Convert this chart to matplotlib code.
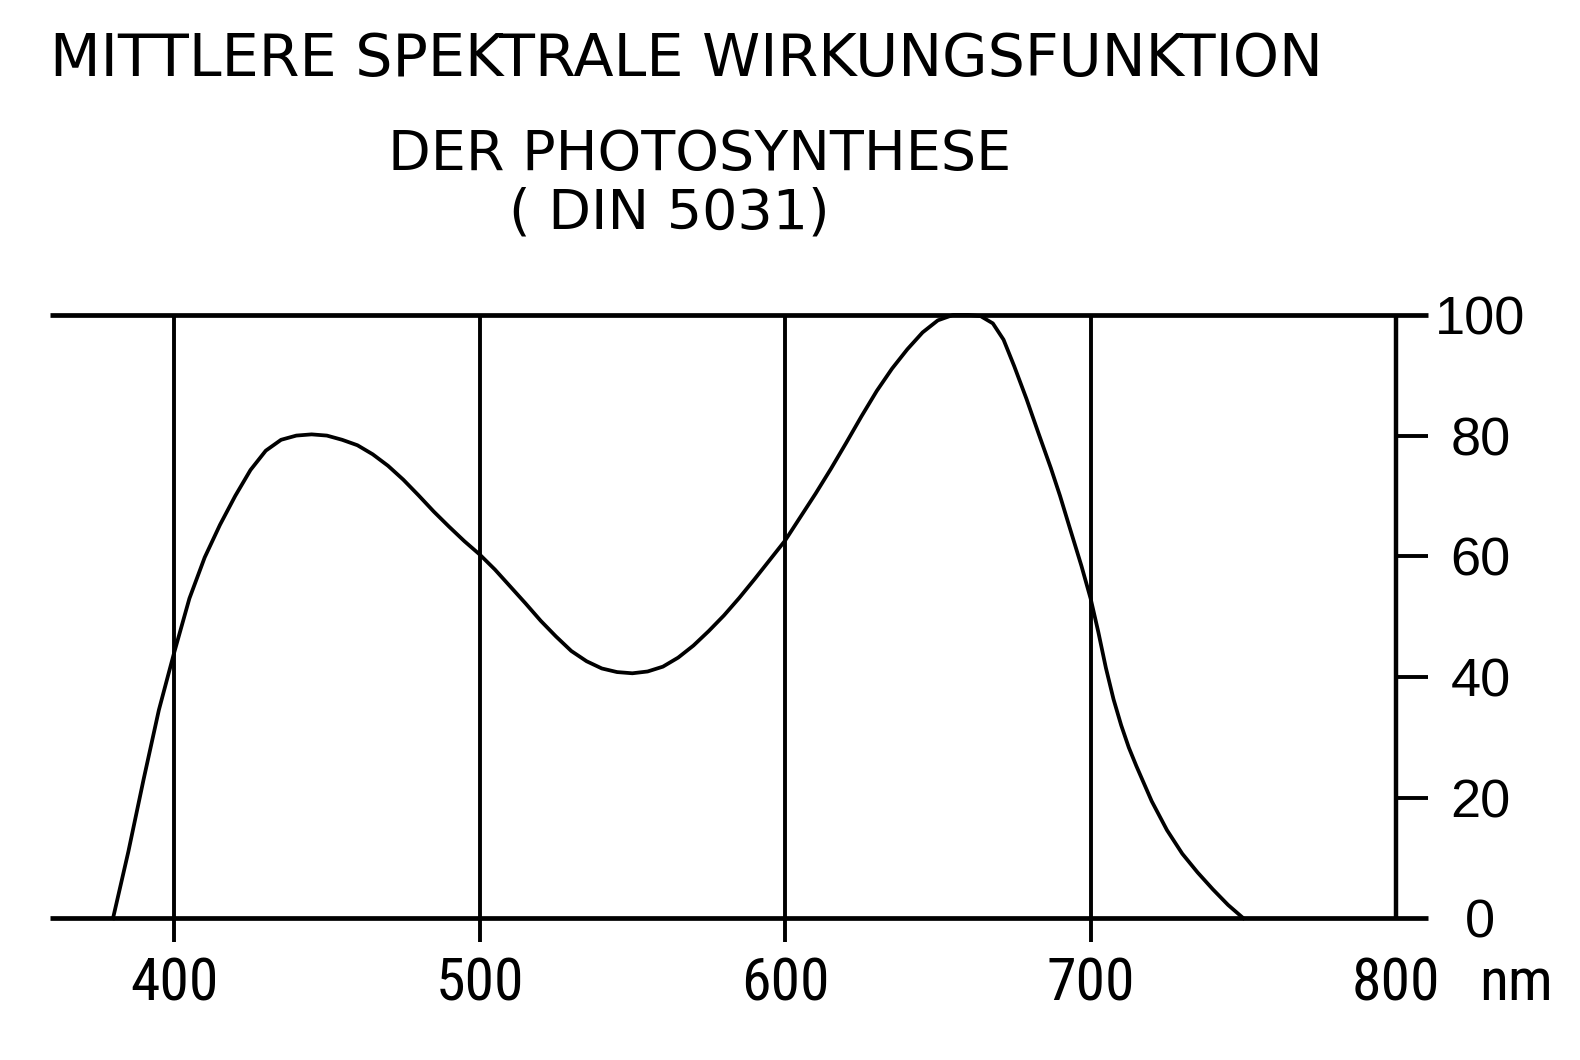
import matplotlib
matplotlib.use('Agg')
import matplotlib.pyplot as plt

# Mean spectral action function of photosynthesis (DIN 5031)
wavelength = [380, 385, 390, 395, 400, 405, 410, 415, 420, 425, 430, 435, 440,
              445, 450, 455, 460, 465, 470, 475, 480, 485, 490, 495, 500, 505,
              510, 515, 520, 525, 530, 535, 540, 545, 550, 555, 560, 565, 570,
              575, 580, 585, 590, 595, 600, 605, 610, 615, 620, 625, 630, 635,
              640, 645, 650, 655, 660, 664, 668, 671.5, 675, 679, 683, 687, 690,
              693, 697, 700, 702.5, 705, 707.5, 710, 712.5, 715, 720, 725, 730,
              735, 740, 745, 750]
action = [0, 11, 23, 34.5, 44, 53, 59.8, 65.2, 70, 74.3, 77.5, 79.3, 80,
          80.2, 80, 79.3, 78.4, 76.9, 75, 72.7, 70.1, 67.4, 64.9, 62.5, 60.3, 57.8,
          55, 52.2, 49.3, 46.7, 44.3, 42.6, 41.4, 40.8, 40.6, 40.9, 41.7, 43.2, 45.2,
          47.6, 50.2, 53.1, 56.2, 59.4, 62.6, 66.5, 70.4, 74.5, 78.8, 83.2, 87.4, 91.1,
          94.3, 97.1, 99.1, 100, 100, 99.8, 98.6, 95.9, 91.5, 86.1, 80.3, 74.6, 70,
          65, 58.4, 53, 47.5, 41.5, 36.3, 32, 28.3, 25.2, 19.4, 14.6, 10.7,
          7.6, 4.8, 2.2, 0]

x_ticks = [400, 500, 600, 700, 800]
x_labels = ['400', '500', '600', '700', '800']
y_ticks = [0, 20, 40, 60, 80, 100]
y_labels = ['0', '20', '40', '60', '80', '100']

title_1 = 'MITTLERE SPEKTRALE WIRKUNGSFUNKTION'
title_2 = 'DER PHOTOSYNTHESE'
title_3 = '( DIN 5031)'

W, H = 1580, 1060
fig = plt.figure(figsize=(W / 100, H / 100), dpi=100)
ax = fig.add_axes([0, 0, 1, 1])
ax.set_xlim(343.0, 860.2)
ax.set_ylim(-23.5, 152.2)
ax.axis('off')

x_left, x_right = 359.4, 810.5
narrow = ['Roboto Condensed', 'Liberation Sans Narrow', 'DejaVu Sans']
regular = ['Liberation Sans', 'DejaVu Sans']

# frame lines
ax.hlines([y_ticks[0], y_ticks[-1]], x_left, x_right, color='black', lw=3.4)
ax.vlines(x_ticks[:-1], -4, y_ticks[-1], color='black', lw=2.8)
ax.vlines(x_ticks[-1], y_ticks[0], y_ticks[-1], color='black', lw=3.2)
ax.hlines(y_ticks[1:-1], x_ticks[-1], x_right, color='black', lw=2.8)

# curve
ax.plot(wavelength, action, color='black', lw=2.7, solid_joinstyle='round')

# x labels
for xt, lab in zip(x_ticks, x_labels):
    ax.text(xt, -13.6, lab, ha='center', va='baseline', fontsize=43, family=narrow)
ax.text(827.2, -13.6, 'nm', ha='left', va='baseline', fontsize=43, family=narrow)

# y labels on the right
for yt, lab in zip(y_ticks, y_labels):
    ax.text(827.6, yt - 3.25, lab, ha='center', va='baseline', fontsize=39, family=regular)

# titles
fig.text(50 / W, 1 - 76 / H, title_1, ha='left', va='baseline', fontsize=42.3, family='DejaVu Sans')
fig.text(388 / W, 1 - 170 / H, title_2, ha='left', va='baseline', fontsize=40, family='DejaVu Sans')
fig.text(509 / W, 1 - 228 / H, title_3, ha='left', va='baseline', fontsize=40, family='DejaVu Sans')

fig.savefig('out.png', dpi=100, facecolor='white')
plt.close(fig)
